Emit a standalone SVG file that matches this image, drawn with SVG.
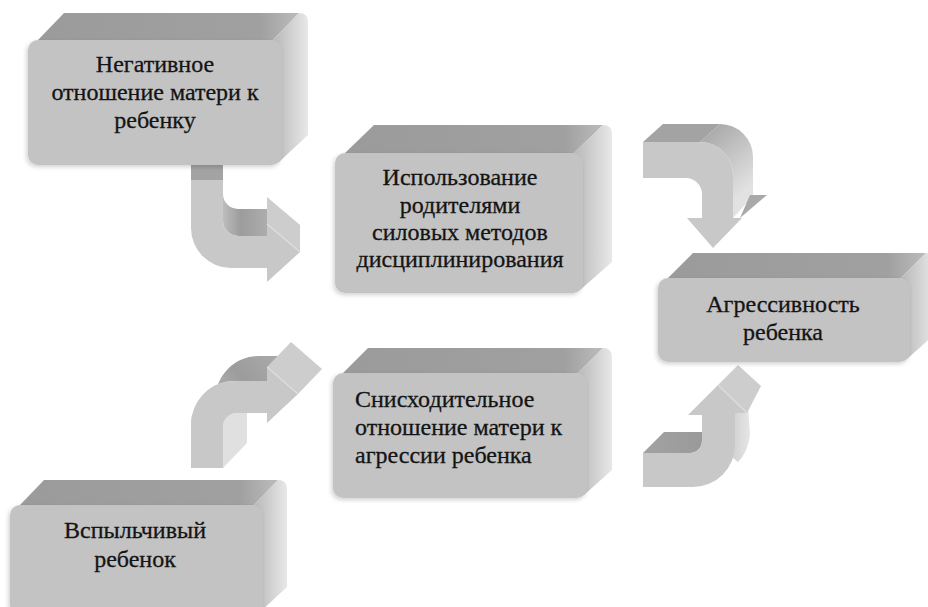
<svg xmlns="http://www.w3.org/2000/svg" width="928" height="607" viewBox="0 0 928 607">
  <defs>
    <style>
      .front { fill: #c3c3c3; }
      .top { fill: url(#topGrad); }
      .side { fill: url(#sideGrad); }
      .label { font-family: "Liberation Serif", "DejaVu Serif", serif; font-size: 24px; fill: #141414; stroke: #141414; stroke-width: 0.3; }
      .afront { fill: #c8c8c8; }
      .adark { fill: #a3a3a3; }
      .alight { fill: #e0e0e0; }
      .afacet { fill: #cdcdcd; }
      .aedge { stroke: #dedede; stroke-width: 1.2; fill: none; }
    </style>
    <linearGradient id="topGrad" x1="0" y1="0" x2="1" y2="0">
      <stop offset="0" stop-color="#9b9b9b"/>
      <stop offset="0.85" stop-color="#a0a0a0"/>
      <stop offset="1" stop-color="#bcbcbc"/>
    </linearGradient>
    <linearGradient id="sideGrad" x1="0" y1="0" x2="1" y2="0">
      <stop offset="0" stop-color="#b8b8b8"/>
      <stop offset="1" stop-color="#e8e8e8"/>
    </linearGradient>
    <linearGradient id="innerA" gradientUnits="userSpaceOnUse" x1="223" y1="0" x2="267" y2="0">
      <stop offset="0" stop-color="#bdbdbd"/>
      <stop offset="0.4" stop-color="#9c9c9c"/>
      <stop offset="1" stop-color="#adadad"/>
    </linearGradient>
    <linearGradient id="curveB" gradientUnits="userSpaceOnUse" x1="705" y1="128" x2="753" y2="185">
      <stop offset="0" stop-color="#a6a6a6"/>
      <stop offset="1" stop-color="#e2e2e2"/>
    </linearGradient>
    <linearGradient id="curveC" gradientUnits="userSpaceOnUse" x1="200" y1="412" x2="272" y2="358">
      <stop offset="0" stop-color="#c2c2c2"/>
      <stop offset="0.6" stop-color="#9c9c9c"/>
      <stop offset="1" stop-color="#a8a8a8"/>
    </linearGradient>
    <linearGradient id="topD" gradientUnits="userSpaceOnUse" x1="643" y1="0" x2="702" y2="0">
      <stop offset="0" stop-color="#a2a2a2"/>
      <stop offset="1" stop-color="#9a9a9a"/>
    </linearGradient>
    <linearGradient id="sideD" gradientUnits="userSpaceOnUse" x1="735" y1="0" x2="750" y2="0">
      <stop offset="0" stop-color="#d4d4d4"/>
      <stop offset="1" stop-color="#e6e6e6"/>
    </linearGradient>
    <filter id="soft" x="-10%" y="-10%" width="120%" height="130%">
      <feDropShadow dx="-1.5" dy="2" stdDeviation="2" flood-color="#000" flood-opacity="0.18"/>
    </filter>
  </defs>

  <rect width="928" height="607" fill="#ffffff"/>

  <!-- 3D bent arrows -->
  <g id="connectors">
    <!-- negative attitude -> forceful discipline -->
    <g id="arrow-negative-to-discipline">
      <rect class="adark" x="191" y="150" width="32" height="30"/>
      <path fill="url(#innerA)" d="M223,194 A15,15 0 0 0 238,209 L267,209 L267,236 L238,236 A15,15 0 0 1 223,221 Z"/>
      <path class="afacet" d="M267,224 L300,252 L300,225 L267,197 Z"/>
      <path class="afront" d="M191,180 L223,180 L223,221 A15,15 0 0 0 238,236 L267,236 L267,224 L300,252 L267,282 L267,268 L231,268 A40,40 0 0 1 191,228 Z"/>
      <path class="aedge" d="M267,224 L300,252"/>
    </g>
    <!-- forceful discipline -> aggressiveness -->
    <g id="arrow-discipline-to-aggression">
      <path class="adark" d="M643,142 L700,142 L720,124 L663,124 Z"/>
      <path fill="url(#curveB)" d="M700,142 A33,33 0 0 1 733,175 L733,218 L753,196 L753,157 A33,33 0 0 0 720,124 Z"/>
      <path fill="#a9a9a9" d="M740,218 L750,195 L767,195 Z"/>
      <path class="afront" d="M643,142 L700,142 A33,33 0 0 1 733,175 L733,218 L742,218 L713,248 L687,218 L702,218 L702,194 A16,16 0 0 0 686,178 L643,178 Z"/>
    </g>
    <!-- hot-tempered child -> lenient attitude -->
    <g id="arrow-child-to-lenient">
      <path class="alight" d="M223,468 L247,443 L247,413 L237,413 A14,14 0 0 0 223,427 Z"/>
      <path fill="url(#curveC)" d="M191,425 A44,44 0 0 1 235,381 L267,381 L291,356 L259,356 A44,44 0 0 0 215,400 Z"/>
      <path class="afacet" d="M267,367 L298,394 L322,369 L291,342 Z"/>
      <path class="afront" d="M191,468 L191,425 A44,44 0 0 1 235,381 L267,381 L267,367 L298,394 L267,423 L267,413 L237,413 A14,14 0 0 0 223,427 L223,468 Z"/>
      <path class="aedge" d="M267,367 L298,394"/>
    </g>
    <!-- lenient attitude -> aggressiveness -->
    <g id="arrow-lenient-to-aggression">
      <path fill="url(#topD)" d="M643,453 L690,453 A12,12 0 0 0 702,441 L702,432 L664,432 Z"/>
      <path fill="url(#sideD)" d="M735,413 L748,405 L750,435 Q748,452 738,462 L733,458 Z"/>
      <path class="afacet" d="M718,385 L738,365 L761,386 L747,413 Z"/>
      <path class="afront" d="M643,453 L690,453 A12,12 0 0 0 702,441 L702,415 L688,415 L718,385 L747,413 L735,413 L735,445 A42,42 0 0 1 693,487 L643,487 Z"/>
      <path class="aedge" d="M718,385 L747,413"/>
    </g>
  </g>

  <!-- Boxes -->
  <g id="node-negative-attitude">
    <path class="top" d="M38,40 L64,13 L299,13 L273,40 Z"/>
    <path class="side" d="M273,40 L299,13 Q308,13 308,22 L308,135 L279,162 Z"/>
    <rect class="front" x="28" y="40" width="254" height="125" rx="10" filter="url(#soft)"/>
    <text class="label" text-anchor="middle" x="155" y="72">Негативное</text>
    <text class="label" text-anchor="middle" x="155" y="100">отношение матери к</text>
    <text class="label" text-anchor="middle" x="155" y="128">ребенку</text>
  </g>

  <g id="node-forceful-discipline">
    <path class="top" d="M345,153 L374,125 L603,125 L574,153 Z"/>
    <path class="side" d="M574,153 L603,125 Q612,125 612,134 L612,262 L580,290 Z"/>
    <rect class="front" x="335" y="153" width="248" height="140" rx="10" filter="url(#soft)"/>
    <text class="label" text-anchor="middle" x="460" y="185">Использование</text>
    <text class="label" text-anchor="middle" x="460" y="213">родителями</text>
    <text class="label" text-anchor="middle" x="460" y="240">силовых методов</text>
    <text class="label" text-anchor="middle" x="460" y="267">дисциплинирования</text>
  </g>

  <g id="node-aggressiveness">
    <path class="top" d="M668,278 L693,253 L926,253 L901,278 Z"/>
    <path class="side" d="M901,278 L926,253 Q935,253 935,262 L935,334 L907,359 Z"/>
    <rect class="front" x="658" y="278" width="252" height="84" rx="10" filter="url(#soft)"/>
    <text class="label" text-anchor="middle" x="783" y="312">Агрессивность</text>
    <text class="label" text-anchor="middle" x="783" y="340">ребенка</text>
  </g>

  <g id="node-lenient-attitude">
    <path class="top" d="M343,373 L368,348 L603,348 L578,373 Z"/>
    <path class="side" d="M578,373 L603,348 Q612,348 612,357 L612,470 L584,495 Z"/>
    <rect class="front" x="333" y="373" width="254" height="125" rx="10" filter="url(#soft)"/>
    <text class="label" x="355" y="407">Снисходительное</text>
    <text class="label" x="355" y="435">отношение матери к</text>
    <text class="label" x="355" y="463">агрессии ребенка</text>
  </g>

  <g id="node-hot-tempered-child">
    <path class="top" d="M20,505 L44,480 L278,480 L254,505 Z"/>
    <path class="side" d="M254,505 L278,480 Q287,480 287,489 L287,587 L260,612 Z"/>
    <rect class="front" x="10" y="505" width="253" height="110" rx="10" filter="url(#soft)"/>
    <text class="label" text-anchor="middle" x="135" y="538">Вспыльчивый</text>
    <text class="label" text-anchor="middle" x="135" y="567">ребенок</text>
  </g>
</svg>
